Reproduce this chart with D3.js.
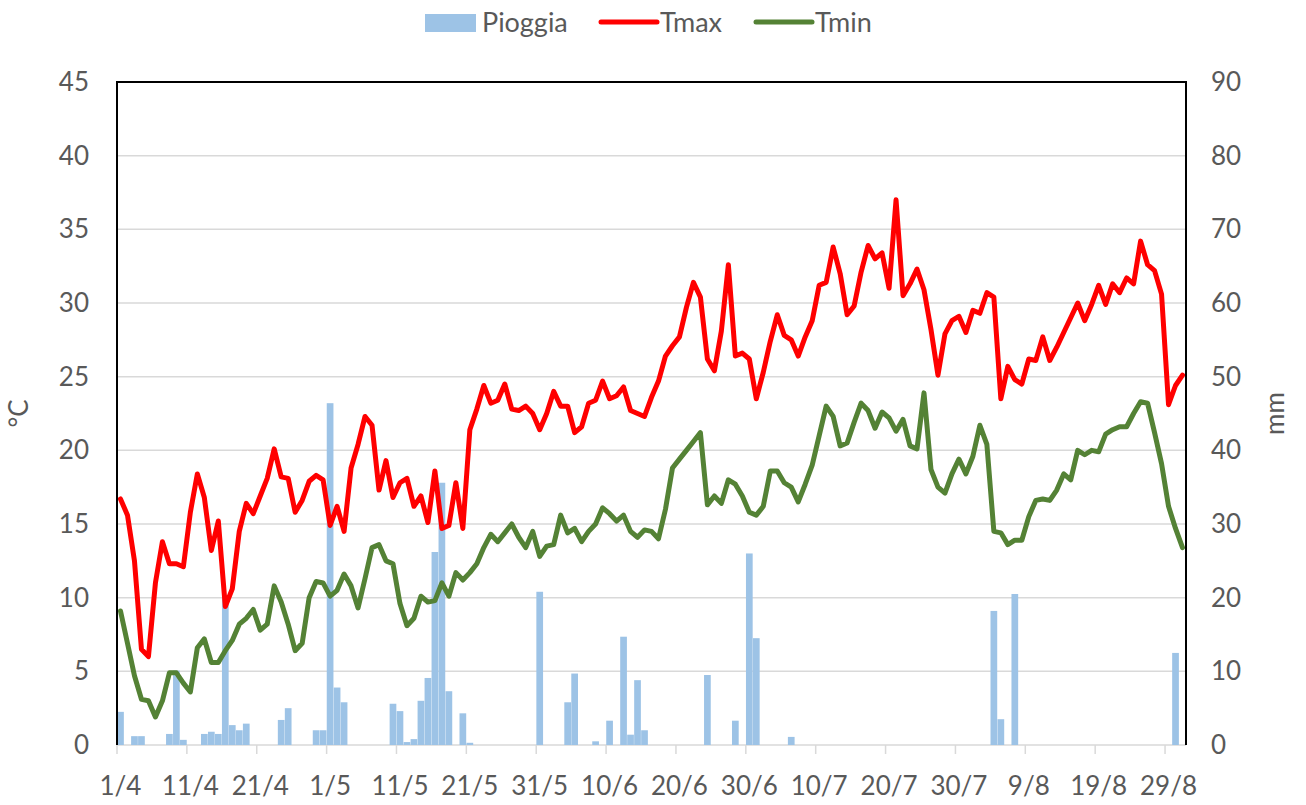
<!DOCTYPE html>
<html>
<head>
<meta charset="utf-8">
<script src="https://cdn.jsdelivr.net/npm/d3@7"></script>
<style>
  body { margin: 0; background: #fff; }
  text { font-family: Lato, 'Open Sans', sans-serif; fill: #595959; }
</style>
</head>
<body>
<div class="outer-container"></div>
<script>
// daily values 1/4 .. 31/8
const tickLabels = ['1/4', '11/4', '21/4', '1/5', '11/5', '21/5', '31/5', '10/6', '20/6', '30/6',
  '10/7', '20/7', '30/7', '9/8', '19/8', '29/8']

const tmax = [
  16.7, 15.6, 12.5, 6.5, 6.0, 11.0, 13.8, 12.3, 12.3, 12.1,
  15.8, 18.4, 16.8, 13.2, 15.2, 9.4, 10.6, 14.5, 16.4, 15.7,
  16.9, 18.1, 20.1, 18.2, 18.1, 15.8, 16.6, 17.9, 18.3, 18.0,
  14.9, 16.2, 14.5, 18.8, 20.4, 22.3, 21.7, 17.3, 19.3, 16.8,
  17.8, 18.1, 16.2, 16.9, 15.1, 18.6, 14.7, 14.9, 17.8, 14.7,
  21.4, 22.8, 24.4, 23.2, 23.4, 24.5, 22.8, 22.7, 23.0, 22.5,
  21.4, 22.5, 24.0, 23.0, 23.0, 21.2, 21.6, 23.2, 23.4, 24.7,
  23.5, 23.7, 24.3, 22.7, 22.5, 22.3, 23.6, 24.7, 26.4, 27.1,
  27.7, 29.7, 31.4, 30.4, 26.2, 25.4, 28.1, 32.6, 26.4, 26.6,
  26.2, 23.5, 25.3, 27.4, 29.2, 27.8, 27.5, 26.4, 27.7, 28.8,
  31.2, 31.4, 33.8, 32.0, 29.2, 29.8, 32.1, 33.9, 33.0, 33.4,
  31.0, 37.0, 30.5, 31.3, 32.3, 30.9, 28.2, 25.1, 27.9, 28.8,
  29.1, 28.0, 29.5, 29.3, 30.7, 30.4, 23.5, 25.7, 24.8, 24.5,
  26.2, 26.1, 27.7, 26.1, 27.0, 28.0, 29.0, 30.0, 28.8, 29.9,
  31.2, 29.9, 31.3, 30.7, 31.7, 31.3, 34.2, 32.6, 32.2, 30.6,
  23.1, 24.4, 25.1
]

const tmin = [
  9.1, 6.9, 4.7, 3.1, 3.0, 1.9, 3.0, 4.9, 4.9, 4.2,
  3.6, 6.6, 7.2, 5.6, 5.6, 6.4, 7.1, 8.2, 8.6, 9.2,
  7.8, 8.2, 10.8, 9.7, 8.2, 6.4, 6.9, 10.0, 11.1, 11.0,
  10.1, 10.5, 11.6, 10.8, 9.3, 11.3, 13.4, 13.6, 12.5, 12.3,
  9.6, 8.1, 8.6, 10.1, 9.7, 9.8, 11.0, 10.1, 11.7, 11.2,
  11.7, 12.3, 13.4, 14.3, 13.8, 14.4, 15.0, 14.1, 13.4, 14.5,
  12.8, 13.5, 13.6, 15.6, 14.4, 14.7, 13.8, 14.5, 15.0, 16.1,
  15.7, 15.2, 15.6, 14.5, 14.1, 14.6, 14.5, 14.0, 16.0, 18.8,
  19.4, 20.0, 20.6, 21.2, 16.3, 16.9, 16.4, 18.0, 17.7, 16.9,
  15.8, 15.6, 16.2, 18.6, 18.6, 17.8, 17.5, 16.5, 17.7, 19.0,
  21.0, 23.0, 22.3, 20.3, 20.5, 21.9, 23.2, 22.7, 21.5, 22.6,
  22.2, 21.3, 22.1, 20.3, 20.1, 23.9, 18.7, 17.5, 17.1, 18.4,
  19.4, 18.4, 19.6, 21.7, 20.4, 14.5, 14.4, 13.6, 13.9, 13.9,
  15.5, 16.6, 16.7, 16.6, 17.3, 18.4, 18.0, 20.0, 19.7, 20.0,
  19.9, 21.1, 21.4, 21.6, 21.6, 22.5, 23.3, 23.2, 21.2, 19.1,
  16.2, 14.7, 13.4
]

const pioggia = [
  4.5, 0, 1.2, 1.2, 0, 0, 0, 1.5, 10.1, 0.7,
  0, 0, 1.5, 1.8, 1.5, 20.0, 2.7, 2.0, 2.9, 0,
  0, 0, 0, 3.4, 5.0, 0, 0, 0, 2.0, 2.0,
  46.4, 7.8, 5.8, 0, 0, 0, 0, 0, 0, 5.6,
  4.6, 0.4, 0.8, 6.0, 9.1, 26.2, 35.6, 7.3, 0, 4.3,
  0.3, 0, 0, 0, 0, 0, 0, 0, 0, 0,
  20.8, 0, 0, 0, 5.8, 9.7, 0, 0, 0.5, 0,
  3.3, 0, 14.7, 1.4, 8.8, 2.0, 0, 0, 0, 0,
  0, 0, 0, 0, 9.5, 0, 0, 0, 3.3, 0,
  26.0, 14.5, 0, 0, 0, 0, 1.1, 0, 0, 0,
  0, 0, 0, 0, 0, 0, 0, 0, 0, 0,
  0, 0, 0, 0, 0, 0, 0, 0, 0, 0,
  0, 0, 0, 0, 0, 18.2, 3.5, 0, 20.5, 0,
  0, 0, 0, 0, 0, 0, 0, 0, 0, 0,
  0, 0, 0, 0, 0, 0, 0, 0, 0, 0,
  0, 12.5, 0
]

const tempTicks = [0, 5, 10, 15, 20, 25, 30, 35, 40, 45]
const rainTicks = [0, 10, 20, 30, 40, 50, 60, 70, 80, 90]

const w = 1306
const h = 805
const plot = { left: 117, right: 1186, top: 82, bottom: 745 }
const fontSize = '26px'

const days = d3.range(tmax.length)

const x = d3.scaleBand()
  .domain(days)
  .range([plot.left, plot.right])
  .paddingInner(0.04)
  .paddingOuter(0.02)

const step = x.step()
const cx = i => x(i) + x.bandwidth() / 2

const yT = d3.scaleLinear().domain([0, 45]).range([plot.bottom, plot.top])
const yR = d3.scaleLinear().domain([0, 90]).range([plot.bottom, plot.top])

const svg = d3.select('.outer-container')
  .append('svg')
  .attr('width', w)
  .attr('height', h)

// gridlines
svg.append('g')
  .selectAll('line')
  .data(tempTicks.slice(1, -1))
  .enter()
  .append('line')
  .attr('x1', plot.left)
  .attr('x2', plot.right)
  .attr('y1', d => yT(d))
  .attr('y2', d => yT(d))
  .attr('stroke', '#d9d9d9')
  .attr('stroke-width', 1.5)

// bottom axis line + ticks
svg.append('line')
  .attr('x1', plot.left)
  .attr('x2', plot.right)
  .attr('y1', plot.bottom)
  .attr('y2', plot.bottom)
  .attr('stroke', '#d9d9d9')
  .attr('stroke-width', 1.5)

const tickIdx = d3.range(0, tmax.length, 10)

svg.append('g')
  .selectAll('line')
  .data(tickIdx)
  .enter()
  .append('line')
  .attr('x1', d => x(d) - step * 0.02)
  .attr('x2', d => x(d) - step * 0.02)
  .attr('y1', plot.bottom)
  .attr('y2', plot.bottom + 9)
  .attr('stroke', '#d9d9d9')
  .attr('stroke-width', 1.5)

svg.append('g')
  .selectAll('text')
  .data(tickIdx)
  .enter()
  .append('text')
  .attr('x', d => cx(d))
  .attr('y', 795)
  .attr('text-anchor', 'middle')
  .attr('font-size', fontSize)
  .text((d, i) => tickLabels[i])

// rain bars
svg.append('g')
  .selectAll('rect')
  .data(days.filter(i => pioggia[i] > 0))
  .enter()
  .append('rect')
  .attr('x', i => x(i))
  .attr('width', x.bandwidth())
  .attr('y', i => yR(pioggia[i]))
  .attr('height', i => plot.bottom - yR(pioggia[i]))
  .attr('fill', '#9dc3e6')

// temperature lines
const line = d3.line()
  .x((d, i) => cx(i))
  .y(d => yT(d))

const series = [
  { values: tmax, color: '#ff0000' },
  { values: tmin, color: '#548235' }
]

series.forEach(s => {
  svg.append('path')
    .datum(s.values)
    .attr('d', line)
    .attr('fill', 'none')
    .attr('stroke', s.color)
    .attr('stroke-width', 5)
    .attr('stroke-linejoin', 'round')
    .attr('stroke-linecap', 'round')
})

// plot border (top, left, right)
svg.append('path')
  .attr('d', `M${plot.left},${plot.bottom}V${plot.top}H${plot.right}V${plot.bottom}`)
  .attr('fill', 'none')
  .attr('stroke', '#000')
  .attr('stroke-width', 2)

// y axes labels
svg.append('g')
  .selectAll('text')
  .data(tempTicks)
  .enter()
  .append('text')
  .attr('x', 89)
  .attr('y', d => yT(d))
  .attr('dy', '0.35em')
  .attr('text-anchor', 'end')
  .attr('font-size', fontSize)
  .text(d => d)

svg.append('g')
  .selectAll('text')
  .data(rainTicks)
  .enter()
  .append('text')
  .attr('x', 1211)
  .attr('y', d => yR(d))
  .attr('dy', '0.35em')
  .attr('text-anchor', 'start')
  .attr('font-size', fontSize)
  .text(d => d)

svg.append('text')
  .attr('transform', 'translate(28,' + ((plot.top + plot.bottom) / 2) + ') rotate(-90)')
  .attr('text-anchor', 'middle')
  .attr('font-size', fontSize)
  .text('°C')

svg.append('text')
  .attr('transform', 'translate(1284,' + ((plot.top + plot.bottom) / 2) + ') rotate(-90)')
  .attr('text-anchor', 'middle')
  .attr('font-size', fontSize)
  .text('mm')

// legend
const legend = svg.append('g')

legend.append('rect')
  .attr('x', 425)
  .attr('y', 14)
  .attr('width', 51)
  .attr('height', 18)
  .attr('fill', '#9dc3e6')

legend.append('text')
  .attr('x', 482)
  .attr('y', 23)
  .attr('dy', '0.35em')
  .attr('font-size', '27px')
  .text('Pioggia')

const legendLines = [
  { x: 601, color: '#ff0000', label: 'Tmax', tx: 660 },
  { x: 756, color: '#548235', label: 'Tmin', tx: 815 }
]

legendLines.forEach(l => {
  legend.append('line')
    .attr('x1', l.x)
    .attr('x2', l.x + 56)
    .attr('y1', 22)
    .attr('y2', 22)
    .attr('stroke', l.color)
    .attr('stroke-width', 5)
    .attr('stroke-linecap', 'round')
  legend.append('text')
    .attr('x', l.tx)
    .attr('y', 23)
    .attr('dy', '0.35em')
    .attr('font-size', '27px')
    .text(l.label)
})
</script>
</body>
</html>
